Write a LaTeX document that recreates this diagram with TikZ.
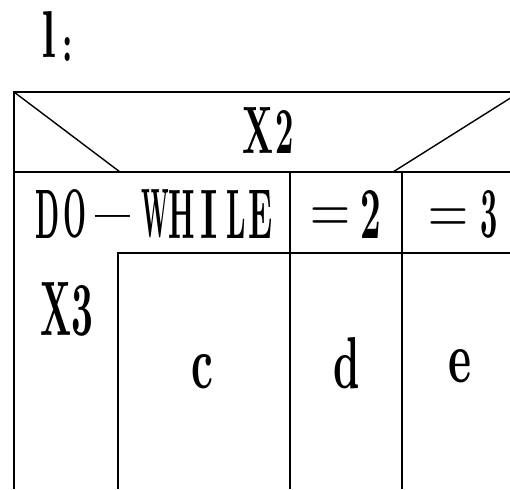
\documentclass[tikz,border=0pt]{standalone}
\usepackage{fontspec}
\usepackage{graphicx}
\newcommand\gly[6]{%
  \pgfmathsetmacro\glw{(#3-#2)*1.15}%
  \pgfmathsetmacro\glx{#2-(#3-#2)*0.075}%
  \pgfmathsetmacro\glh{#5-#4}%
  \node[lbl] (#1) at (\glx,#5) {\resizebox{\glw pt}{\glh pt}{\bfseries #6}};}
\begin{document}
\begin{tikzpicture}[x=1pt,y=-1pt,
  frame/.style={line width=2pt,black},
  diag/.style={line width=1.4pt,black},
  lbl/.style={inner sep=0pt,outer sep=0pt,anchor=south west},
  bar/.style={inner sep=0pt,outer sep=0pt,anchor=base west}]
\useasboundingbox (0,0) rectangle (510,489);
\clip (0,0) rectangle (510,489);
% frame
\draw[frame] (14,489) -- (14,92) -- (530,92);
\draw[frame] (14,172) -- (530,172);
\draw[frame] (290,172) -- (290,489);
\draw[frame] (402,172) -- (402,489);
\draw[frame] (118,489) -- (118,253) -- (530,253);
% diagonals
\draw[diag] (14,92) -- (120,172);
\draw[diag] (393,172) -- (520,92);
% title  l:
\gly{tl}{42}{55}{12}{58}{l}
\gly{tc}{63}{72}{38}{62}{:}
% X2
\gly{x2a}{245}{272}{107}{153}{X}
\gly{x2b}{277}{293}{110}{153}{2}
% DO—WHILE
\gly{dwD}{37}{58}{190}{238}{D}
\gly{dwO}{65}{85}{190}{238}{O}
\node[bar] (dwdash) at (95,239) {\resizebox{35pt}{24pt}{—}};
\gly{dwW}{143}{167}{190}{238}{W}
\gly{dwH}{170}{193}{190}{238}{H}
\gly{dwI}{202}{217}{190}{238}{I}
\gly{dwL}{228}{245}{190}{238}{L}
\gly{dwE}{250}{271}{190}{238}{E}
% =2
\node[bar] (eq2a) at (310,233) {\scalebox{1}[1.3]{\fontsize{55.5pt}{55.5pt}\selectfont =}};
\gly{eq2b}{362}{380}{190}{238}{2}
% =3
\node[bar] (eq3a) at (428,234.5) {\scalebox{1}[1.3]{\fontsize{55.5pt}{55.5pt}\selectfont =}};
\gly{eq3b}{482}{497}{191}{238}{3}
% X3
\gly{x3a}{43}{70}{282}{335}{X}
\gly{x3b}{73}{92}{286}{336}{3}
% c d e
\gly{c}{193}{212}{355}{389}{c}
\gly{d}{335}{358}{338}{389}{d}
\gly{e}{450}{470}{350}{383}{e}
\end{tikzpicture}
\end{document}
